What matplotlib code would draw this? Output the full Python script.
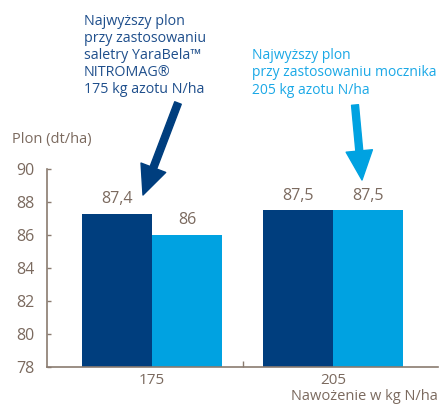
import numpy as np
import matplotlib.pyplot as plt

plt.rcParams['font.family'] = ['Open Sans', 'DejaVu Sans']

groups = ['175', '205']
saletra = [87.3, 87.5]
mocznik = [86.0, 87.5]
labels_saletra = ['87,4', '87,5']
labels_mocznik = ['86', '87,5']
yticks = [78, 80, 82, 84, 86, 88, 90]

dark = '#003e7e'
light = '#00a2e1'
axcol = '#8a7b70'
txtcol = '#7b6a5f'

fig = plt.figure(figsize=(4.43, 4.05), dpi=100)
ax = fig.add_axes([47/443, 38/405, 391/443, 198/405])

x = np.arange(len(groups))
w = 0.387
ax.bar(x - w/2, saletra, w, color=dark, zorder=2)
ax.bar(x + w/2, mocznik, w, color=light, zorder=2)

for xi, v, s in zip(x - w/2, saletra, labels_saletra):
    ax.text(xi, v + 0.4, s, ha='center', va='bottom', fontsize=11.5, color=txtcol)
for xi, v, s in zip(x + w/2, mocznik, labels_mocznik):
    ax.text(xi, v + 0.4, s, ha='center', va='bottom', fontsize=11.5, color=txtcol)

ax.set_xlim(-0.58, 1.58)
ax.set_ylim(78, 90)
ax.set_yticks(yticks)
ax.set_xticks([0.5])
ax.set_xticklabels([''])
for xi, g in zip(x, groups):
    ax.text(xi, -0.03, g, transform=ax.get_xaxis_transform(), ha='center', va='top',
            fontsize=11, color=txtcol)

for side in ['top', 'right']:
    ax.spines[side].set_visible(False)
for side in ['left', 'bottom']:
    ax.spines[side].set_color(axcol)
    ax.spines[side].set_linewidth(1.2)
ax.tick_params(axis='both', direction='in', length=4, width=1, color=axcol,
               labelcolor=txtcol, labelsize=11.5, pad=6)
ax.tick_params(axis='y', length=3, pad=9)

fig.text(12/443, 1 - 140/405, 'Plon (dt/ha)', fontsize=10.5, color=txtcol, va='center')
fig.text(438/443, 1 - 397/405, 'Nawożenie w kg N/ha', fontsize=10.5, color=txtcol,
         ha='right', va='center')

fig.text(84/443, 1 - 14/405,
         'Najwyższy plon\nprzy zastosowaniu\nsaletry YaraBela™\nNITROMAG®\n175 kg azotu N/ha',
         fontsize=10.3, color='#1f4f8c', va='top', linespacing=1.18)
fig.text(252/443, 1 - 48/405,
         'Najwyższy plon\nprzy zastosowaniu mocznika\n205 kg azotu N/ha',
         fontsize=10, color='#1aa8e6', va='top', linespacing=1.22)

ax.annotate('', xy=(143, 405 - 195), xytext=(178, 405 - 103),
            xycoords='figure pixels', textcoords='figure pixels',
            arrowprops=dict(arrowstyle='simple,head_width=1.9,head_length=2.1,tail_width=0.5',
                            mutation_scale=10, color=dark, shrinkA=0, shrinkB=0))
ax.annotate('', xy=(362, 405 - 180), xytext=(355, 405 - 105),
            xycoords='figure pixels', textcoords='figure pixels',
            arrowprops=dict(arrowstyle='simple,head_width=1.9,head_length=2.1,tail_width=0.5',
                            mutation_scale=10, color=light, shrinkA=0, shrinkB=0))

fig.savefig('out.png', dpi=100)
